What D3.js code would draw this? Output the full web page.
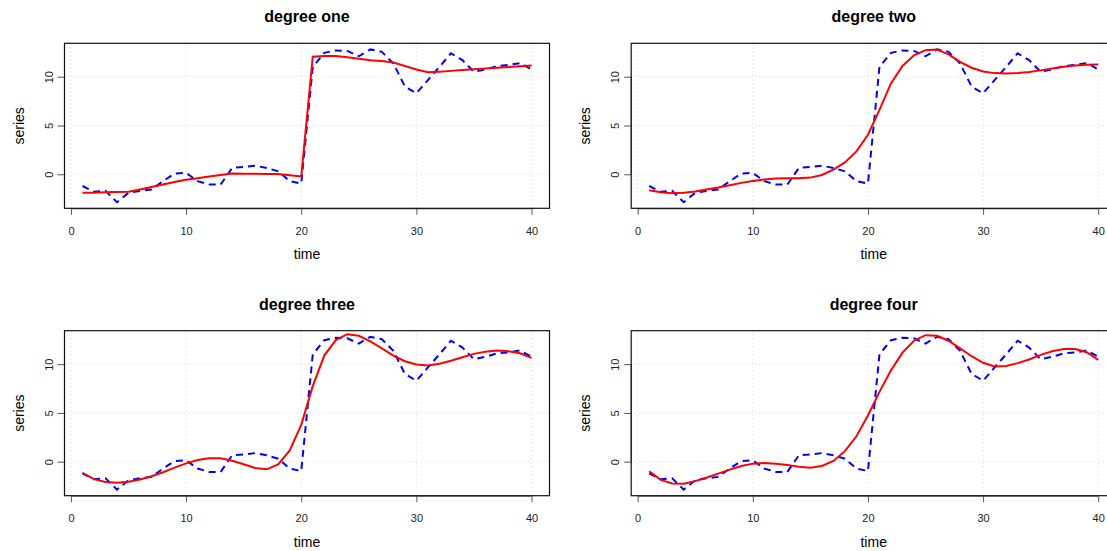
<!DOCTYPE html>
<html>
<head>
<meta charset="utf-8">
<script src="https://cdn.jsdelivr.net/npm/d3@7"></script>
<style>
  body { margin: 0; background: #fff; }
  svg { display: block; font-family: "Liberation Sans", Arial, sans-serif; }
</style>
</head>
<body>
<div id="gr"></div>
<script>
// time index and the observed series (blue dashed), same in every panel
var time = d3.range(1, 41);
var series = [-1.2, -1.8, -1.7, -2.86, -1.9, -1.7, -1.56, -0.7, 0.07, 0.14,
  -0.7, -1.05, -1.05, 0.65, 0.75, 0.88, 0.65, 0.3, -0.7, -0.95,
  11.0, 12.45, 12.7, 12.65, 12.1, 12.8, 12.55, 11.36, 9.0, 8.3,
  9.66, 11.0, 12.4, 11.7, 10.5, 10.75, 11.1, 11.2, 11.4, 10.75];

// fitted curves (red)
var fitOne = [-1.9, -1.88, -1.85, -1.82, -1.78, -1.55, -1.3, -1.05, -0.8, -0.55,
  -0.4, -0.22, -0.07, 0.07, 0.06, 0.05, 0.04, 0.02, -0.1, -0.22,
  12.05, 12.12, 12.12, 12.0, 11.85, 11.7, 11.6, 11.45, 11.1, 10.75,
  10.45, 10.52, 10.6, 10.68, 10.76, 10.84, 10.92, 11.0, 11.08, 11.15];
var fitTwo = [-1.63, -1.84, -1.94, -1.9, -1.77, -1.56, -1.36, -1.12, -0.88, -0.68,
  -0.54, -0.44, -0.41, -0.41, -0.34, -0.07, 0.48, 1.22, 2.35, 4.05,
  6.6, 9.32, 11.1, 12.2, 12.72, 12.79, 12.3, 11.53, 10.92, 10.54,
  10.37, 10.34, 10.37, 10.48, 10.65, 10.85, 11.02, 11.16, 11.22, 11.26];
var fitThree = [-1.15, -1.79, -2.09, -2.16, -2.06, -1.82, -1.49, -1.08, -0.61, -0.17,
  0.17, 0.34, 0.34, 0.1, -0.27, -0.64, -0.78, -0.27, 1.15, 3.78,
  7.74, 10.88, 12.47, 13.07, 12.9, 12.33, 11.62, 10.88, 10.3, 9.97,
  9.86, 10.03, 10.34, 10.71, 11.05, 11.28, 11.39, 11.32, 11.11, 10.64];
var fitFour = [-0.98, -1.86, -2.23, -2.26, -1.99, -1.62, -1.22, -0.81, -0.44, -0.2,
  -0.14, -0.2, -0.34, -0.51, -0.61, -0.44, 0.07, 1.08, 2.6, 4.73,
  7.16, 9.36, 11.18, 12.4, 12.97, 12.9, 12.4, 11.62, 10.81, 10.14,
  9.76, 9.8, 10.1, 10.47, 10.95, 11.32, 11.55, 11.55, 11.22, 10.44];

var titles = ["degree one", "degree two", "degree three", "degree four"];
var fits = [fitOne, fitTwo, fitThree, fitFour];
var xTicks = [0, 10, 20, 30, 40];
var yTicks = [0, 5, 10];

var width = 1107, height = 551;
var pw = 485, ph = 165;
var lefts = [64.5, 631.2], tops = [43.3, 330.7];

var svg = d3.select("#gr").append("svg")
  .attr("width", width)
  .attr("height", height);

// R style 4% padding on both axes
function pad(ext) {
  var d = (ext[1] - ext[0]) * 0.04;
  return [ext[0] - d, ext[1] + d];
}

var xScale = d3.scaleLinear().domain(pad(d3.extent(time))).range([0, pw]);
var yScale = d3.scaleLinear().domain(pad(d3.extent(series))).range([ph, 0]);

var line = d3.line()
  .x(function (d) { return xScale(d[0]); })
  .y(function (d) { return yScale(d[1]); });

titles.forEach(function (title, i) {
  var g = svg.append("g")
    .attr("transform", "translate(" + lefts[i % 2] + "," + tops[Math.floor(i / 2)] + ")");

  g.append("defs").append("clipPath")
    .attr("id", "clip" + i)
    .append("rect")
    .attr("width", pw)
    .attr("height", ph);

  // grid
  g.selectAll(".gx").data(xTicks).enter().append("line")
    .attr("x1", function (d) { return xScale(d); })
    .attr("x2", function (d) { return xScale(d); })
    .attr("y1", 0).attr("y2", ph)
    .attr("stroke", "#d3d3d3")
    .attr("stroke-dasharray", "1,3");
  g.selectAll(".gy").data(yTicks).enter().append("line")
    .attr("y1", function (d) { return yScale(d); })
    .attr("y2", function (d) { return yScale(d); })
    .attr("x1", 0).attr("x2", pw)
    .attr("stroke", "#d3d3d3")
    .attr("stroke-dasharray", "1,3");

  var plot = g.append("g").attr("clip-path", "url(#clip" + i + ")");

  plot.append("path")
    .datum(d3.zip(time, series))
    .attr("d", line)
    .attr("fill", "none")
    .attr("stroke", "blue")
    .attr("stroke-width", 2)
    .attr("stroke-dasharray", "7,5");

  plot.append("path")
    .datum(d3.zip(time, fits[i]))
    .attr("d", line)
    .attr("fill", "none")
    .attr("stroke", "red")
    .attr("stroke-width", 2);

  // axes, R style: line only between the first and last tick
  var xAxis = d3.axisBottom(xScale).tickValues(xTicks).tickSize(6).tickSizeOuter(0).tickPadding(12).tickFormat(d3.format("d"));
  var yAxis = d3.axisLeft(yScale).tickValues(yTicks).tickSize(7).tickSizeOuter(0).tickFormat(d3.format("d"));

  var xa = g.append("g")
    .attr("transform", "translate(0," + (ph + 0.5) + ")")
    .call(xAxis);
  var ya = g.append("g").call(yAxis);

  xa.select(".domain").attr("d", "M" + xScale(xTicks[0]) + ",0H" + xScale(xTicks[xTicks.length - 1]));
  ya.select(".domain").attr("d", "M0," + yScale(yTicks[0]) + "V" + yScale(yTicks[yTicks.length - 1]));

  [xa, ya].forEach(function (a) {
    a.select(".domain").attr("stroke", "#555");
    a.selectAll(".tick line").attr("stroke", "#555");
    a.selectAll("text").attr("fill", "#222").style("font-size", "11px")
      .style("font-family", "'Liberation Sans', Arial, sans-serif");
  });
  ya.selectAll(".tick text")
    .attr("transform", "rotate(-90)")
    .attr("x", 0)
    .attr("y", -12)
    .attr("dy", 0)
    .attr("text-anchor", "middle");

  g.append("rect")
    .attr("width", pw)
    .attr("height", ph)
    .attr("fill", "none")
    .attr("stroke", "#111")
    .attr("stroke-width", 1.2);

  g.append("text")
    .attr("x", pw / 2)
    .attr("y", -21)
    .attr("text-anchor", "middle")
    .style("font-size", "16px")
    .style("font-weight", "bold")
    .text(title);

  g.append("text")
    .attr("x", pw / 2)
    .attr("y", ph + 51)
    .attr("text-anchor", "middle")
    .style("font-size", "14px")
    .text("time");

  g.append("text")
    .attr("transform", "translate(-41," + (ph / 2) + ") rotate(-90)")
    .attr("text-anchor", "middle")
    .style("font-size", "14px")
    .text("series");
});
</script>
</body>
</html>
